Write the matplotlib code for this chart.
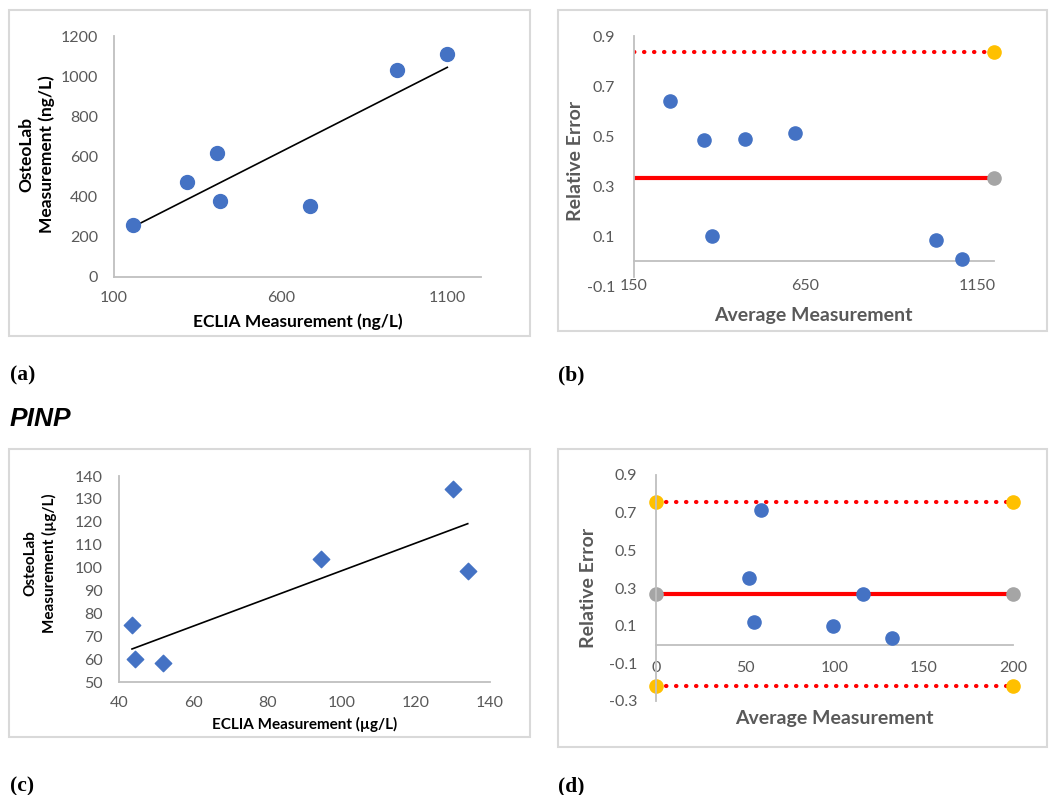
import numpy as np
import matplotlib
matplotlib.use("Agg")
import matplotlib.pyplot as plt
from matplotlib.patches import Rectangle

# (a) OsteoLab vs ECLIA, ng/L
a_eclia = [157, 319, 409, 419, 687, 949, 1099]
a_osteo = [259, 475, 619, 378, 355, 1031, 1109]

# (b) relative error vs average measurement
b_avg = [256, 353, 377, 473, 619, 1030, 1107]
b_err = [0.641, 0.484, 0.100, 0.489, 0.511, 0.084, 0.007]
b_ends = [150, 1200]
b_mean = 0.331
b_upper = 0.836

# (c) PINP, µg/L
c_eclia = [43.5, 44.3, 51.8, 94.4, 130.0, 134.0]
c_osteo = [74.8, 60.2, 58.2, 103.7, 134.4, 98.6]

# (d) PINP relative error
d_avg = [52.3, 54.9, 59.0, 98.9, 116.0, 132.0]
d_err = [0.351, 0.122, 0.716, 0.097, 0.270, 0.036]
d_ends = [0, 200]
d_mean = 0.266
d_upper = 0.754
d_lower = -0.223

BLUE = '#4472C4'
ORANGE = '#FFC000'
GREY = '#A5A5A5'
RED = '#FF0000'
TXT = '#595959'
AXC = '#BFBFBF'

plt.rcParams['font.family'] = ['Lato', 'DejaVu Sans']
plt.rcParams['axes.unicode_minus'] = False

W, H = 1051, 795
fig = plt.figure(figsize=(W / 100, H / 100), dpi=100)


def add_ax(left, top, right, bottom):
    return fig.add_axes([left / W, 1 - bottom / H, (right - left) / W, (bottom - top) / H])


def add_box(x0, y0, x1, y1):
    fig.add_artist(Rectangle((x0 / W, 1 - y1 / H), (x1 - x0) / W, (y1 - y0) / H,
                             transform=fig.transFigure, fill=False, ec='#D9D9D9', lw=1.5))


def style(ax, xpad, ypad):
    for s in ['top', 'right']:
        ax.spines[s].set_visible(False)
    for s in ['left', 'bottom']:
        ax.spines[s].set_color(AXC)
        ax.spines[s].set_linewidth(1.3)
    ax.tick_params(length=0, colors=TXT, labelsize=11.5)
    ax.tick_params(axis='x', pad=xpad)
    ax.tick_params(axis='y', pad=ypad)


def labels(ax, xlab, xpos, ylab, ypos, size, color):
    ax.set_xlabel(xlab, fontsize=size, fontweight='bold', color=color)
    ax.set_ylabel(ylab, fontsize=size, fontweight='bold', color=color, linespacing=1.35)
    ax.xaxis.set_label_coords(*xpos)
    ax.yaxis.set_label_coords(*ypos)
    ax.xaxis.label.set_verticalalignment('center')
    ax.yaxis.label.set_verticalalignment('center')


def limit_lines(ax, ends, mean, lims, ends_marked):
    ax.plot(ends, [mean, mean], color=RED, lw=3, zorder=2)
    ax.plot(ends, [mean, mean], ls='none', marker='o', ms=9.5, color=GREY,
            markevery=ends_marked, clip_on=False, zorder=2)
    for v in lims:
        ax.plot(ends, [v, v], color=RED, lw=3, ls=(0, (0.1, 2.3)),
                dash_capstyle='round', zorder=2)
        ax.plot(ends, [v, v], ls='none', marker='o', ms=9.5, color=ORANGE,
                markevery=ends_marked, clip_on=False, zorder=2)


# boxes
add_box(9, 10, 530, 336)
add_box(558, 10, 1047, 331)
add_box(9, 449, 530, 737)
add_box(558, 449, 1047, 747)

# (a)
ax = add_ax(114, 36, 481, 277)
style(ax, 10, 11.5)
ax.scatter(a_eclia, a_osteo, s=100, color=BLUE, zorder=3, clip_on=False)
k, b = np.polyfit(a_eclia, a_osteo, 1)
xs = np.array([min(a_eclia), max(a_eclia)])
ax.plot(xs, k * xs + b, color='black', lw=1.2, zorder=2)
ax.set_xlim(100, 1200)
ax.set_ylim(0, 1200)
ax.set_xticks([100, 600, 1100])
ax.set_yticks(range(0, 1201, 200))
labels(ax, 'ECLIA Measurement (ng/L)', (0.501, -0.187),
       'OsteoLab\nMeasurement (ng/L)', (-0.211, 0.51), 12.5, 'black')

# (b)
ax = add_ax(634, 36, 994, 286)
style(ax, 13, 13.5)
ax.spines['bottom'].set_position(('data', 0))
ax.spines['left'].set_bounds(-0.065, 0.9)
limit_lines(ax, b_ends, b_mean, [b_upper], [1])
ax.scatter(b_avg, b_err, s=90, color=BLUE, zorder=3, clip_on=False)
ax.set_xlim(150, 1200)
ax.set_ylim(-0.1, 0.9)
ax.set_xticks([150, 650, 1150])
b_ticks = [-0.1, 0.1, 0.3, 0.5, 0.7, 0.9]
ax.set_yticks(b_ticks)
ax.set_yticklabels(['%.1f' % v for v in b_ticks])
labels(ax, 'Average Measurement', (0.497, -0.12),
       'Relative Error', (-0.162, 0.502), 14, TXT)

# (c)
ax = add_ax(119, 476, 490, 682)
style(ax, 10, 11.5)
ax.scatter(c_eclia, c_osteo, s=70, marker='D', color=BLUE, zorder=3, clip_on=False)
k, b = np.polyfit(c_eclia, c_osteo, 1)
xs = np.array([min(c_eclia), max(c_eclia)])
ax.plot(xs, k * xs + b, color='black', lw=1.2, zorder=2)
ax.set_xlim(40, 140)
ax.set_ylim(50, 140)
ax.set_xticks(range(40, 141, 20))
ax.set_yticks(range(50, 141, 10))
labels(ax, 'ECLIA Measurement (µg/L)', (0.501, -0.206),
       'OsteoLab\nMeasurement (µg/L)', (-0.213, 0.575), 11, 'black')

# (d)
ax = add_ax(656, 475, 1013, 701)
style(ax, 12, 13.5)
ax.spines['bottom'].set_position(('data', 0))
limit_lines(ax, d_ends, d_mean, [d_upper, d_lower], [0, 1])
ax.scatter(d_avg, d_err, s=90, color=BLUE, zorder=3, clip_on=False)
ax.set_xlim(0, 200)
ax.set_ylim(-0.3, 0.9)
ax.set_xticks(range(0, 201, 50))
d_ticks = [-0.3, -0.1, 0.1, 0.3, 0.5, 0.7, 0.9]
ax.set_yticks(d_ticks)
ax.set_yticklabels(['%.1f' % v for v in d_ticks])
labels(ax, 'Average Measurement', (0.501, -0.078),
       'Relative Error', (-0.188, 0.50), 14, TXT)

# panel letters and section title
serif = dict(fontfamily='Liberation Serif', fontweight='bold', fontsize=15.5, va='center')
fig.text(10 / W, 1 - 375 / H, '(a)', **serif)
fig.text(558 / W, 1 - 375 / H, '(b)', **serif)
fig.text(10 / W, 1 - 786 / H, '(c)', **serif)
fig.text(558 / W, 1 - 786 / H, '(d)', **serif)
fig.text(10 / W, 1 - 419 / H, 'PINP', fontfamily='Liberation Sans', fontweight='bold',
         style='italic', fontsize=19, va='center')

fig.savefig('out.png', dpi=100)
